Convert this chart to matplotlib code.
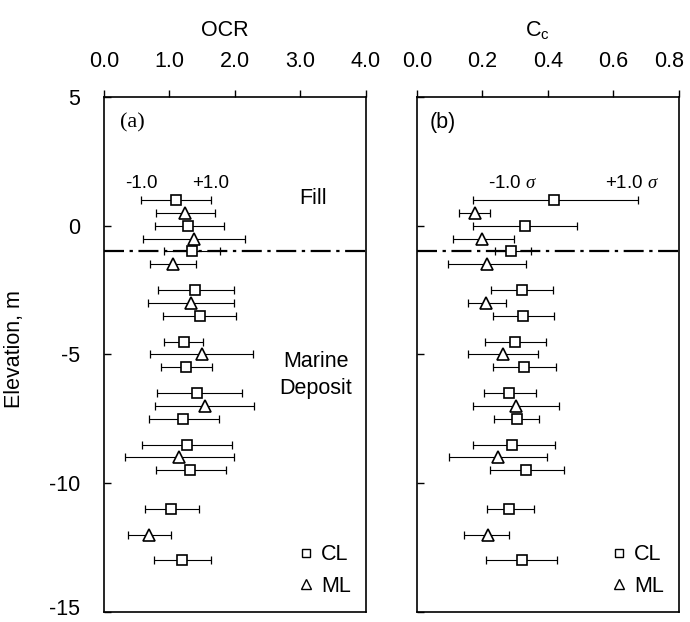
import numpy as np
import matplotlib
matplotlib.use("Agg")
import matplotlib.pyplot as plt
import matplotlib.transforms as mtransforms
from matplotlib.lines import Line2D

plt.rcParams["font.family"] = ["Liberation Sans", "DejaVu Sans"]
plt.rcParams["mathtext.fontset"] = "custom"
plt.rcParams["mathtext.rm"] = "Liberation Sans"
plt.rcParams["mathtext.it"] = "Liberation Serif:italic"

# elevations (m)
elev_cl = [1.0, 0.0, -1.0, -2.5, -3.5, -4.5, -5.5, -6.5, -7.5, -8.5, -9.5, -11.0, -13.0]
elev_ml = [0.5, -0.5, -1.5, -3.0, -5.0, -7.0, -9.0, -12.0]

# OCR: mean, mean-1sd, mean+1sd
ocr_cl = [1.10, 1.29, 1.34, 1.39, 1.46, 1.22, 1.25, 1.42, 1.21, 1.26, 1.32, 1.03, 1.19]
ocr_cl_lo = [0.56, 0.78, 0.92, 0.82, 0.90, 0.92, 0.87, 0.81, 0.69, 0.58, 0.80, 0.62, 0.76]
ocr_cl_hi = [1.63, 1.83, 1.77, 1.99, 2.02, 1.51, 1.65, 2.10, 1.76, 1.95, 1.86, 1.45, 1.63]
ocr_ml = [1.24, 1.37, 1.05, 1.33, 1.49, 1.54, 1.15, 0.69]
ocr_ml_lo = [0.79, 0.60, 0.70, 0.67, 0.70, 0.78, 0.32, 0.36]
ocr_ml_hi = [1.69, 2.15, 1.40, 1.99, 2.27, 2.29, 1.98, 1.02]

# Cc: mean, mean-1sd, mean+1sd
cc_cl = [0.418, 0.331, 0.288, 0.320, 0.323, 0.298, 0.327, 0.280, 0.304, 0.291, 0.333, 0.282, 0.321]
cc_cl_lo = [0.171, 0.172, 0.239, 0.226, 0.232, 0.207, 0.233, 0.205, 0.234, 0.170, 0.223, 0.214, 0.212]
cc_cl_hi = [0.675, 0.489, 0.347, 0.414, 0.418, 0.394, 0.424, 0.363, 0.373, 0.420, 0.450, 0.356, 0.428]
cc_ml = [0.178, 0.200, 0.214, 0.212, 0.263, 0.302, 0.246, 0.216]
cc_ml_lo = [0.129, 0.110, 0.094, 0.155, 0.156, 0.172, 0.099, 0.144]
cc_ml_hi = [0.224, 0.295, 0.334, 0.273, 0.369, 0.434, 0.397, 0.282]

fill_boundary = -1.0
ocr_ticks = [0.0, 1.0, 2.0, 3.0, 4.0]
cc_ticks = [0.0, 0.2, 0.4, 0.6, 0.8]
elev_ticks = [5, 0, -5, -10, -15]

fig = plt.figure(figsize=(6.9, 6.22), dpi=100)
ax1 = fig.add_axes([0.1507, 0.0161, 0.3797, 0.828])
ax2 = fig.add_axes([0.6043, 0.0161, 0.3797, 0.828])


def draw_series(ax, x, lo, hi, y, marker, ms):
    x = np.array(x)
    err = [x - np.array(lo), np.array(hi) - x]
    ax.errorbar(x, y, xerr=err, fmt="none", ecolor="black", elinewidth=0.8,
                capsize=2.8, capthick=0.9, zorder=2)
    ax.plot(x, y, linestyle="none", marker=marker, ms=ms, mfc="white",
            mec="black", mew=1.2, zorder=3)


def style_axes(ax, xticks, xlabel, lab_x):
    ax.set_ylim(-15, 5)
    ax.set_xlim(xticks[0], xticks[-1])
    ax.xaxis.tick_top()
    ax.set_xticks(xticks)
    ax.set_xticklabels([f"{t:.1f}" for t in xticks])
    ax.set_yticks(elev_ticks)
    ax.tick_params(axis="x", direction="out", length=5, width=1, pad=13, labelsize=15.5)
    ax.tick_params(axis="y", direction="in", length=5, width=1, pad=17, labelsize=15.5)
    for s in ax.spines.values():
        s.set_linewidth(1.2)
    ax.axhline(fill_boundary, color="black", linestyle=(0, (9, 2.5, 1.5, 2.5)), lw=1.6,
               zorder=1)
    ax.text(lab_x, 1.13, xlabel, transform=ax.transAxes, ha="center", va="center",
            fontsize=15.5)
    handles = [Line2D([], [], ls="none", marker="s", ms=6, mfc="white", mec="black", mew=1),
               Line2D([], [], ls="none", marker="^", ms=6.5, mfc="white", mec="black", mew=1)]
    ax.legend(handles, ["CL", "ML"], loc="lower right", bbox_to_anchor=(1.0, 0.0),
              frameon=False, fontsize=15.5, handlelength=0.6, handletextpad=0.4,
              labelspacing=0.5, borderaxespad=0.3)


def nudge(label, dx_px, dy_px):
    off = mtransforms.ScaledTranslation(dx_px / 100, dy_px / 100, fig.dpi_scale_trans)
    label.set_transform(label.get_transform() + off)


# (a) OCR
draw_series(ax1, ocr_cl, ocr_cl_lo, ocr_cl_hi, elev_cl, "s", 7)
draw_series(ax1, ocr_ml, ocr_ml_lo, ocr_ml_hi, elev_ml, "^", 8.5)
style_axes(ax1, ocr_ticks, "OCR", 0.462)
ax1.set_yticklabels([str(t) for t in elev_ticks])
ax1.set_ylabel("Elevation, m", fontsize=15.5)
ax1.yaxis.set_label_coords(-0.30, 0.51)
ax1.text(0.06, 0.95, "(a)", transform=ax1.transAxes, fontsize=16,
         family="Liberation Serif", ha="left", va="center")
ax1.text(0.57, 1.65, "-1.0", ha="center", va="center", fontsize=13.5)
ax1.text(1.63, 1.65, "+1.0", ha="center", va="center", fontsize=13.5)
ax1.text(3.19, 1.05, "Fill", ha="center", va="center", fontsize=15.5)
ax1.text(3.23, -5.8, "Marine\nDeposit", ha="center", va="center", fontsize=15.5,
         linespacing=1.4)

# (b) Cc
draw_series(ax2, cc_cl, cc_cl_lo, cc_cl_hi, elev_cl, "s", 7)
draw_series(ax2, cc_ml, cc_ml_lo, cc_ml_hi, elev_ml, "^", 8.5)
style_axes(ax2, cc_ticks, r"C$_\mathregular{c}$", 0.458)
ax2.set_yticklabels([])
ax2.text(0.05, 0.95, "(b)", transform=ax2.transAxes, fontsize=15.5, ha="left", va="center")
ax2.text(0.293, 1.65, r"-1.0 $\sigma$", ha="center", va="center", fontsize=13.5)
ax2.text(0.656, 1.65, r"+1.0 $\sigma$", ha="center", va="center", fontsize=13.5)

# keep edge labels inside the figure
nudge(ax2.xaxis.get_major_ticks()[-1].label2, -10, 0)
nudge(ax1.yaxis.get_major_ticks()[-1].label1, 0, 5)

fig.savefig("out.png", dpi=100)
